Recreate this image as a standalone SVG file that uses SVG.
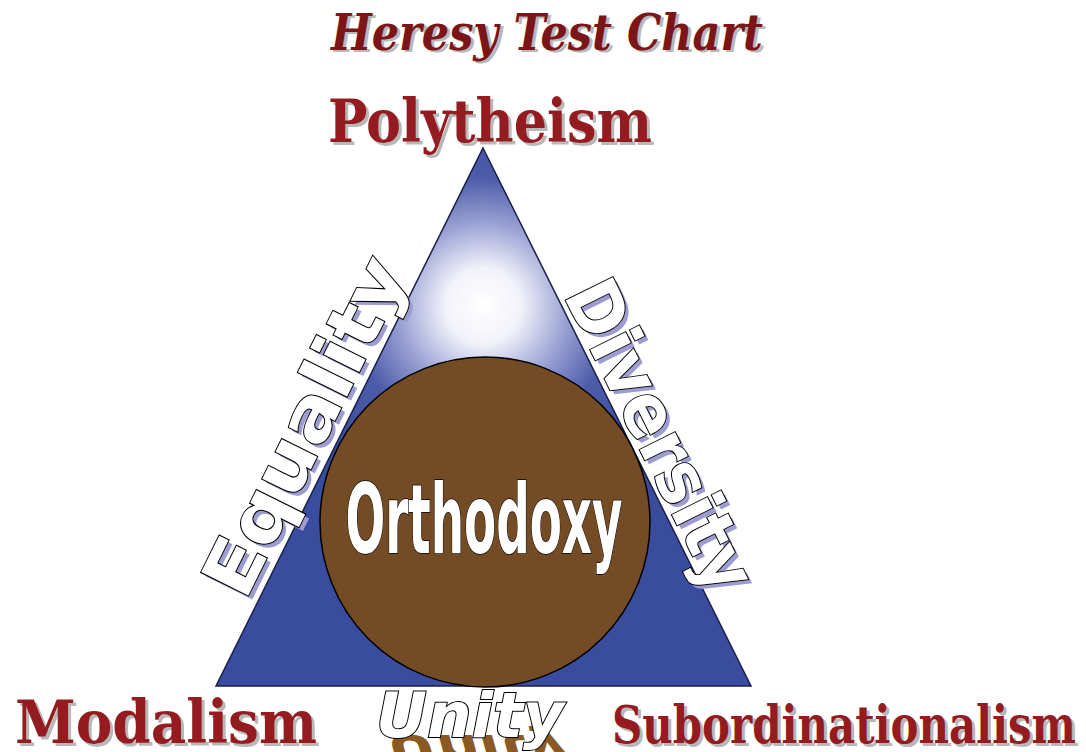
<svg xmlns="http://www.w3.org/2000/svg" width="1086" height="752" viewBox="0 0 1086 752">
<defs>
<radialGradient id="tri" gradientUnits="userSpaceOnUse" cx="483" cy="310" r="210" fx="483" fy="305">
<stop offset="0" stop-color="#ffffff"/>
<stop offset="0.18" stop-color="#f2f2fa"/>
<stop offset="0.4" stop-color="#9aa2d4"/>
<stop offset="0.62" stop-color="#4c5ca9"/>
<stop offset="1" stop-color="#3a4c9e"/>
</radialGradient>
</defs>
<style>
.uncial{font-family:"DejaVu Serif","Liberation Serif",serif;font-weight:bold;}
.red{fill:#941b1f;}
.shade{fill:#b8b8b8;}
.title{font-family:"DejaVu Serif","Liberation Serif",serif;font-weight:bold;font-style:italic;}
.side{font-family:"DejaVu Sans","Liberation Sans",sans-serif;font-weight:bold;font-size:72px;}
.outline{fill:#ffffff;stroke:#000000;stroke-width:2;paint-order:stroke;}
.lav{fill:#9c9cd2;}
</style>
<rect width="1086" height="752" fill="#ffffff"/>
<g id="title">
<text class="title shade" x="550" y="52" font-size="50" text-anchor="middle" textLength="432" lengthAdjust="spacingAndGlyphs">Heresy Test Chart</text>
<text class="title" x="547" y="50" font-size="50" text-anchor="middle" fill="#7b1518" textLength="432" lengthAdjust="spacingAndGlyphs">Heresy Test Chart</text>
</g>
<g id="triangle">
<polygon points="483,148 751,686 216,686" fill="url(#tri)" stroke="#1a1f4a" stroke-width="1.5"/>
</g>
<g id="orthodoxy">
<circle cx="485" cy="522" r="165" fill="#734c26" stroke="#000000" stroke-width="1.5"/>
<text x="484" y="553" font-family="'DejaVu Sans Condensed','DejaVu Sans','Liberation Sans',sans-serif" font-weight="bold" font-size="96" text-anchor="middle" textLength="277" lengthAdjust="spacingAndGlyphs" fill="#ffffff" stroke="#000000" stroke-width="1.5" paint-order="stroke">Orthodoxy</text>
</g>
<g id="polytheism">
<text class="uncial shade" x="493" y="145" font-size="60" text-anchor="middle" textLength="324" lengthAdjust="spacingAndGlyphs">Polytheism</text>
<text class="uncial red" x="490" y="142" font-size="60" text-anchor="middle" textLength="324" lengthAdjust="spacingAndGlyphs">Polytheism</text>
</g>
<g id="equality">
<text class="side lav" transform="translate(249,606) rotate(-63.6)" x="0" y="0" textLength="368" lengthAdjust="spacingAndGlyphs">Equality</text>
<text class="side outline" transform="translate(245,602) rotate(-63.6)" x="0" y="0" textLength="368" lengthAdjust="spacingAndGlyphs">Equality</text>
</g>
<g id="diversity">
<text class="side lav" transform="translate(567,299) rotate(63.6)" x="0" y="0" textLength="338" lengthAdjust="spacingAndGlyphs">Diversity</text>
<text class="side outline" transform="translate(563,295) rotate(63.6)" x="0" y="0" textLength="338" lengthAdjust="spacingAndGlyphs">Diversity</text>
</g>
<g id="unity">
<text transform="translate(0,735) scale(1,-0.7) translate(0,-735)" x="478" y="735" font-family="'DejaVu Sans','Liberation Sans',sans-serif" font-weight="bold" font-style="italic" font-size="62" text-anchor="middle" textLength="180" lengthAdjust="spacingAndGlyphs" fill="#8a5a22">Unity</text>
<text x="470" y="737" font-family="'DejaVu Sans','Liberation Sans',sans-serif" font-weight="bold" font-style="italic" font-size="62" text-anchor="middle" textLength="188" lengthAdjust="spacingAndGlyphs" fill="#ffffff" stroke="#000000" stroke-width="2" paint-order="stroke">Unity</text>
</g>
<g id="modalism">
<text class="uncial shade" x="18" y="746" font-size="60" textLength="302" lengthAdjust="spacingAndGlyphs">Modalism</text>
<text class="uncial red" x="15" y="743" font-size="60" textLength="302" lengthAdjust="spacingAndGlyphs">Modalism</text>
</g>
<g id="subordinationalism">
<text class="uncial shade" x="615" y="746" font-size="52" textLength="464" lengthAdjust="spacingAndGlyphs">Subordinationalism</text>
<text class="uncial red" x="612" y="743" font-size="52" textLength="464" lengthAdjust="spacingAndGlyphs">Subordinationalism</text>
</g>
</svg>
